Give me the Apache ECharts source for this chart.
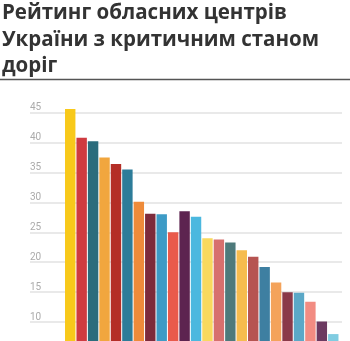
<!DOCTYPE html>
<html>
<head>
<meta charset="utf-8">
<script src="https://cdn.jsdelivr.net/npm/echarts@6/dist/echarts.min.js"></script>
<style>
  html, body { margin: 0; padding: 0; background: #fff; overflow: hidden; }
  /* the plot continues below the visible window, down to the zero line */
  #chart { width: 350px; height: 390px; }
</style>
</head>
<body>
<div id="chart"></div>
<script>
// Regional centres ranked by share of roads in critical condition
const ranks = ['1','2','3','4','5','6','7','8','9','10','11','12','13','14','15','16','17','18','19','20','21','22','23','24'];
const values = [45.6, 40.8, 40.2, 37.5, 36.4, 35.5, 30.1, 28.1, 28.0, 25.0, 28.5, 27.6,
                24.0, 23.8, 23.3, 22.0, 20.9, 19.2, 16.6, 15.0, 14.9, 13.4, 10.1, 8.0];
const barColors = ['#F8C91A', '#CF3B40', '#2B6C7C', '#F1A63E', '#B42E27', '#2D7C99',
                   '#EE8B3A', '#7D2B3B', '#3D9BC6', '#E95A4B', '#5D2450', '#4BB8DF',
                   '#F8D95E', '#D7706E', '#4D7A7B', '#F6BC4E', '#B65451', '#3E7FA1',
                   '#F4A35B', '#8A3949', '#5BA8C7', '#F28C82', '#6C3A61', '#80CCE1'];
const yTicks = [0, 45, 5]; // min, max, step

const chart = echarts.init(document.getElementById('chart'), null, { renderer: 'canvas' });

chart.setOption({
  animation: false,
  backgroundColor: '#fff',
  title: {
    text: 'Рейтинг обласних центрів\nУкраїни з критичним станом\nдоріг',
    left: 2,
    top: 0,
    padding: 0,
    textStyle: {
      fontFamily: 'Open Sans',
      fontWeight: 'bold',
      fontSize: 20.5,
      lineHeight: 26.6,
      color: '#333'
    }
  },
  graphic: [{
    type: 'line',
    shape: { x1: 0, y1: 79.5, x2: 350, y2: 79.5 },
    style: { stroke: '#555', lineWidth: 1.5 }
  }],
  grid: [
    { left: 30, right: 8, top: 112.5, bottom: 8 },
    { left: 64.5, right: 11, top: 112.5, bottom: 8 }
  ],
  xAxis: [
    { gridIndex: 0, type: 'category', data: [''], show: false },
    { gridIndex: 1, type: 'category', data: ranks, show: false }
  ],
  yAxis: [
    {
      gridIndex: 0, type: 'value',
      min: yTicks[0], max: yTicks[1], interval: yTicks[2],
      axisLine: { show: false }, axisTick: { show: false },
      splitLine: { lineStyle: { color: '#e2e2e2', width: 1.5 } },
      axisLabel: {
        inside: true, margin: 0,
        verticalAlign: 'bottom',
        fontFamily: 'Roboto',
        fontSize: 10,
        color: '#ababab'
      }
    },
    { gridIndex: 1, type: 'value', min: yTicks[0], max: yTicks[1], interval: yTicks[2], show: false, splitLine: { show: false } }
  ],
  series: [{
    type: 'bar',
    xAxisIndex: 1,
    yAxisIndex: 1,
    clip: false,
    barCategoryGap: '9%',
    data: values.map((v, i) => ({ value: v, itemStyle: { color: barColors[i] } }))
  }]
});
</script>
</body>
</html>
